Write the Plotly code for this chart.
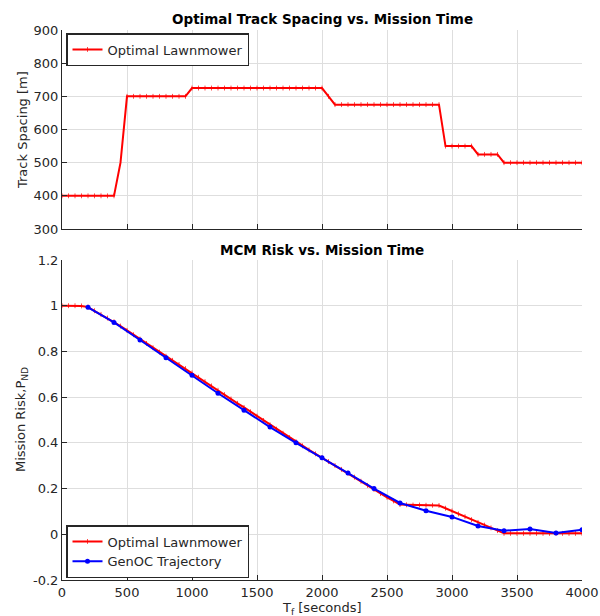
import plotly.graph_objects as go

# ---- data ----
t_lawn = [i * 50 for i in range(81)]
spacing_lawn = [400, 400, 400, 400, 400, 400, 400, 400, 400, 500,
                700, 700, 700, 700, 700, 700, 700, 700, 700, 700,
                725, 725, 725, 725, 725, 725, 725, 725, 725, 725,
                725, 725, 725, 725, 725, 725, 725, 725, 725, 725,
                725, 700, 675, 675, 675, 675, 675, 675, 675, 675,
                675, 675, 675, 675, 675, 675, 675, 675, 675, 550,
                550, 550, 550, 550, 525, 525, 525, 525, 500, 500,
                500, 500, 500, 500, 500, 500, 500, 500, 500, 500, 500]
risk_lawn = [1.0, 1.0, 1.0, 0.999, 0.994, 0.978, 0.962, 0.946, 0.930, 0.911,
             0.892, 0.873, 0.854, 0.835, 0.816, 0.797, 0.779, 0.761, 0.743, 0.725,
             0.706, 0.687, 0.668, 0.649, 0.630, 0.611, 0.592, 0.573, 0.555, 0.536,
             0.517, 0.498, 0.479, 0.460, 0.442, 0.423, 0.405, 0.387, 0.369, 0.352,
             0.335, 0.318, 0.301, 0.284, 0.268, 0.250, 0.232, 0.214, 0.196, 0.178,
             0.162, 0.146, 0.130, 0.129, 0.128, 0.128, 0.127, 0.127, 0.126, 0.114,
             0.102, 0.089, 0.077, 0.064, 0.052, 0.040, 0.028, 0.016, 0.004, 0.004,
             0.004, 0.004, 0.004, 0.004, 0.004, 0.004, 0.004, 0.004, 0.004, 0.004, 0.004]
t_genoc = [200, 400, 600, 800, 1000, 1200, 1400, 1600, 1800, 2000,
           2200, 2400, 2600, 2800, 3000, 3200, 3400, 3600, 3800, 4000]
risk_genoc = [0.993, 0.927, 0.850, 0.772, 0.696, 0.617, 0.543, 0.469, 0.400, 0.335,
              0.268, 0.200, 0.137, 0.103, 0.076, 0.036, 0.016, 0.023, 0.006, 0.020]

x_ticks = [0, 500, 1000, 1500, 2000, 2500, 3000, 3500, 4000]
y1_ticks = [300, 400, 500, 600, 700, 800, 900]
y2_ticks = [-0.2, 0, 0.2, 0.4, 0.6, 0.8, 1.0, 1.2]
y2_labels = ["-0.2", "0", "0.2", "0.4", "0.6", "0.8", "1", "1.2"]

W, H = 600, 616
FONT = "DejaVu Sans"
TXT = "#262626"
GRID = "#dedede"

red_marker = dict(symbol="line-ns", size=3.5, color="#ff0000",
                  line=dict(color="#ff0000", width=0.7))

fig = go.Figure()
fig.add_trace(go.Scatter(x=t_lawn, y=spacing_lawn, mode="lines+markers",
                         name="Optimal Lawnmower", xaxis="x", yaxis="y",
                         line=dict(color="#ff0000", width=2),
                         marker=red_marker, legend="legend"))
fig.add_trace(go.Scatter(x=t_lawn, y=risk_lawn, mode="lines+markers",
                         name="Optimal Lawnmower", xaxis="x2", yaxis="y2",
                         line=dict(color="#ff0000", width=2),
                         marker=red_marker, legend="legend2"))
fig.add_trace(go.Scatter(x=t_genoc, y=risk_genoc, mode="lines+markers",
                         name="GenOC Trajectory", xaxis="x2", yaxis="y2",
                         line=dict(color="#0000ff", width=2),
                         marker=dict(symbol="circle", size=5, color="#0000ff"),
                         legend="legend2"))

def px_x(p):
    return p / W

def px_y(p):
    return 1 - p / H

ax_common = dict(range=[0, 4000], tickvals=x_ticks, showgrid=True, gridcolor=GRID,
                 gridwidth=1, ticks="inside", ticklen=5, tickcolor="#262626",
                 showline=True, linecolor="#262626", linewidth=1, mirror=False,
                 zeroline=False, automargin=False,
                 tickfont=dict(family=FONT, size=13, color=TXT))
ay_common = dict(showgrid=True, gridcolor=GRID, gridwidth=1, ticks="inside",
                 ticklen=5, tickcolor="#262626", showline=True, linecolor="#262626",
                 linewidth=1, zeroline=False, automargin=False,
                 tickfont=dict(family=FONT, size=13, color=TXT))

fig.update_layout(
    width=W, height=H,
    margin=dict(l=0, r=0, t=0, b=0, autoexpand=False),
    paper_bgcolor="white", plot_bgcolor="white",
    font=dict(family=FONT, color=TXT),
    xaxis=dict(domain=[px_x(62), px_x(582)], anchor="y", showticklabels=False, **ax_common),
    yaxis=dict(domain=[px_y(229), px_y(30)], anchor="x", range=[300, 900],
               tickvals=y1_ticks, **ay_common),
    xaxis2=dict(domain=[px_x(62), px_x(582)], anchor="y2", **ax_common),
    yaxis2=dict(domain=[px_y(580), px_y(260)], anchor="x2", range=[-0.2, 1.2],
                tickvals=y2_ticks, ticktext=y2_labels, **ay_common),
    legend=dict(x=px_x(66), y=px_y(33), xanchor="left", yanchor="top",
                bgcolor="white", bordercolor="#262626", borderwidth=1.5,
                font=dict(family=FONT, size=13, color=TXT),
                tracegroupgap=0, itemwidth=30),
    legend2=dict(x=px_x(66), y=px_y(578), xanchor="left", yanchor="bottom",
                 bgcolor="white", bordercolor="#262626", borderwidth=1.5,
                 font=dict(family=FONT, size=13, color=TXT),
                 tracegroupgap=0, itemwidth=30),
    showlegend=True,
)

annos = [
    dict(text="<b>Optimal Track Spacing vs. Mission Time</b>", x=px_x(322), y=px_y(19),
         font=dict(size=13.5, color="black")),
    dict(text="<b>MCM Risk vs. Mission Time</b>", x=px_x(322), y=px_y(250),
         font=dict(size=13.5, color="black")),
    dict(text="Track Spacing [m]", x=px_x(22), y=px_y(130), textangle=-90,
         font=dict(size=13, color=TXT)),
    dict(text="Mission Risk,P<sub>ND</sub>", x=px_x(22), y=px_y(420), textangle=-90,
         font=dict(size=13, color=TXT)),
    dict(text="T<sub>f</sub> [seconds]", x=px_x(322), y=px_y(608),
         font=dict(size=13, color=TXT)),
]
for a in annos:
    a.update(xref="paper", yref="paper", showarrow=False, xanchor="center",
             yanchor="middle")
    a["font"]["family"] = FONT
fig.update_layout(annotations=annos)

fig.write_html("out.html")
